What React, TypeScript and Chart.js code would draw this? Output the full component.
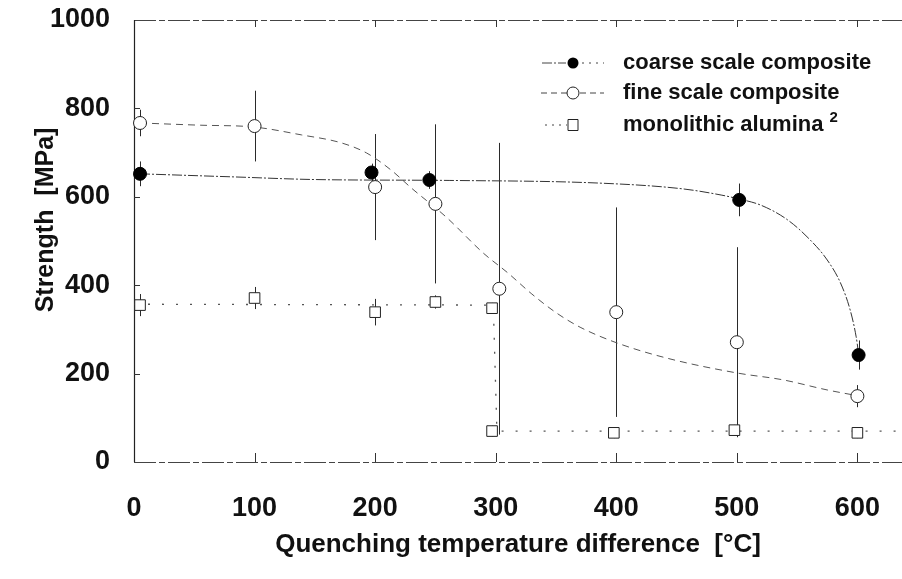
import React, { useEffect, useRef } from "react";
import { Chart, registerables } from "chart.js";

Chart.register(...registerables);

// ---- data ----
const xTickValues = [0, 100, 200, 300, 400, 500, 600];
const yTickValues = [0, 200, 400, 600, 800, 1000];

const xAxisTitle = "Quenching temperature difference  [°C]";
const yAxisTitle = "Strength  [MPa]";

const seriesNames = ["coarse scale composite", "fine scale composite", "monolithic alumina"];
const monoSuperscript = "2";

const coarseX = [5, 197, 245, 502, 601];
const coarseY = [652, 655, 638, 593, 242];
const coarseErr = [28, 20, 20, 37, 33];

const fineX = [5, 100, 200, 250, 303, 400, 500, 600];
const fineY = [767, 760, 622, 584, 392, 339, 271, 149];
const fineErr = [30, 80, 120, 180, 330, 237, 215, 25];

const monoX = [5, 100, 200, 250, 297, 297, 398, 498, 600];
const monoY = [355, 371, 339, 362, 348, 70, 66, 72, 66];
const monoErr = [25, 25, 30, 15, 12, 12, 12, 12, 12];

// fitted guide curves
const coarseFitX = [5, 83, 151, 262, 386, 455, 487, 502, 520, 542, 561, 575, 586, 594, 599, 601];
const coarseFitY = [652, 645, 639, 637, 631, 618, 604, 595, 581, 548, 502, 457, 405, 344, 283, 245];

const fineFitX = [5, 55, 99, 139, 172, 193, 213, 230, 259, 290, 310, 330, 350, 370, 400, 442, 501, 538, 575, 600];
const fineFitY = [767, 762, 758, 740, 722, 699, 661, 620, 554, 472, 428, 380, 338, 305, 270, 235, 201, 186, 163, 150];

const monoFitX = [0, 298, 301, 637];
const monoFitY = [357, 355, 70, 70];

const FONT = '"Liberation Sans", Arial, Helvetica, sans-serif';
const INK = "#111111";

const zip = (xs: number[], ys: number[]) => xs.map((x, i) => ({ x, y: ys[i] }));

const errorBarPlugin = {
  id: "errorBars",
  beforeDatasetsDraw(chart: any) {
    const { ctx, scales } = chart;
    const x = scales.x;
    const y = scales.y;
    ctx.save();
    ctx.strokeStyle = "#2a2a2a";
    ctx.lineWidth = 1;
    chart.data.datasets.forEach((ds: any) => {
      if (!ds.errors) return;
      ds.data.forEach((p: any, j: number) => {
        const e = ds.errors[j];
        const px = Math.round(x.getPixelForValue(p.x)) + 0.5;
        ctx.beginPath();
        ctx.moveTo(px, y.getPixelForValue(p.y + e));
        ctx.lineTo(px, y.getPixelForValue(Math.max(0, p.y - e)));
        ctx.stroke();
      });
    });
    ctx.restore();
  },
};

const framePlugin = {
  id: "frame",
  beforeDatasetsDraw(chart: any) {
    const { ctx, chartArea, scales } = chart;
    const x = scales.x;
    const y = scales.y;
    const { left, right, top, bottom } = chartArea;
    ctx.save();
    ctx.strokeStyle = "#444";
    ctx.lineWidth = 1;
    ctx.setLineDash([22, 3, 6, 3]);
    ctx.beginPath();
    ctx.moveTo(left, top + 0.5);
    ctx.lineTo(right, top + 0.5);
    ctx.moveTo(left, bottom + 0.5);
    ctx.lineTo(right, bottom + 0.5);
    ctx.stroke();
    ctx.setLineDash([]);
    ctx.strokeStyle = "#222";
    ctx.lineWidth = 1.2;
    ctx.beginPath();
    ctx.moveTo(left + 0.5, top);
    ctx.lineTo(left + 0.5, bottom);
    ctx.stroke();
    ctx.lineWidth = 1;
    ctx.strokeStyle = "#333";
    ctx.beginPath();
    xTickValues.forEach((v) => {
      if (v === 0) return;
      const px = Math.round(x.getPixelForValue(v)) + 0.5;
      ctx.moveTo(px, top);
      ctx.lineTo(px, top + 7);
      ctx.moveTo(px, bottom);
      ctx.lineTo(px, bottom - 9);
    });
    yTickValues.forEach((v) => {
      if (v === 0 || v === 1000) return;
      const py = Math.round(y.getPixelForValue(v)) + 0.5;
      ctx.moveTo(left, py);
      ctx.lineTo(left + 6, py);
    });
    ctx.stroke();
    ctx.restore();
  },
};

const annotationPlugin = {
  id: "annotations",
  afterDraw(chart: any) {
    const { ctx } = chart;
    ctx.save();
    ctx.fillStyle = INK;
    ctx.font = `bold 25px ${FONT}`;
    ctx.textAlign = "center";
    ctx.textBaseline = "middle";
    ctx.translate(46, 220);
    ctx.rotate(-Math.PI / 2);
    ctx.fillText(yAxisTitle, 0, 0);
    ctx.restore();

    ctx.save();
    const rows = [63, 93, 125];
    const textX = 623;
    const markX = 573;
    ctx.strokeStyle = "#444";
    ctx.lineWidth = 1;
    ctx.setLineDash([10, 2, 2, 2]);
    ctx.beginPath();
    ctx.moveTo(542, rows[0]);
    ctx.lineTo(566, rows[0]);
    ctx.stroke();
    ctx.setLineDash([2, 5]);
    ctx.beginPath();
    ctx.moveTo(582, rows[0]);
    ctx.lineTo(604, rows[0]);
    ctx.stroke();
    ctx.setLineDash([]);
    ctx.fillStyle = "#000";
    ctx.beginPath();
    ctx.arc(markX, rows[0], 5.5, 0, Math.PI * 2);
    ctx.fill();
    ctx.setLineDash([6, 4]);
    ctx.beginPath();
    ctx.moveTo(541, rows[1]);
    ctx.lineTo(567, rows[1]);
    ctx.moveTo(580, rows[1]);
    ctx.lineTo(604, rows[1]);
    ctx.stroke();
    ctx.setLineDash([]);
    ctx.fillStyle = "#fff";
    ctx.strokeStyle = "#222";
    ctx.beginPath();
    ctx.arc(markX, rows[1], 6, 0, Math.PI * 2);
    ctx.fill();
    ctx.stroke();
    ctx.strokeStyle = "#444";
    ctx.setLineDash([2, 5]);
    ctx.beginPath();
    ctx.moveTo(545, rows[2]);
    ctx.lineTo(567, rows[2]);
    ctx.stroke();
    ctx.setLineDash([]);
    ctx.strokeStyle = "#222";
    ctx.fillStyle = "#fff";
    ctx.beginPath();
    ctx.rect(markX - 5, rows[2] - 5.5, 10, 11);
    ctx.fill();
    ctx.stroke();
    ctx.fillStyle = INK;
    ctx.font = `bold 22px ${FONT}`;
    ctx.textAlign = "left";
    ctx.textBaseline = "middle";
    seriesNames.forEach((name, i) => ctx.fillText(name, textX, rows[i]));
    const w = ctx.measureText(seriesNames[2]).width;
    ctx.font = `bold 15px ${FONT}`;
    ctx.fillText(monoSuperscript, textX + w + 6, rows[2] - 7);
    ctx.restore();
  },
};

export default function App() {
  const canvasRef = useRef<HTMLCanvasElement | null>(null);

  useEffect(() => {
    if (!canvasRef.current) return;
    const tickFont = { family: FONT, size: 27, weight: "bold" as const };
    const chart = new Chart(canvasRef.current, {
      type: "scatter",
      data: {
        datasets: [
          {
            label: "coarse fit",
            data: zip(coarseFitX, coarseFitY),
            showLine: true,
            borderColor: "#333",
            borderWidth: 1,
            borderDash: [10, 2, 2, 2],
            pointRadius: 0,
            cubicInterpolationMode: "monotone",
            order: 3,
          } as any,
          {
            label: "fine fit",
            data: zip(fineFitX, fineFitY),
            showLine: true,
            borderColor: "#555",
            borderWidth: 1,
            borderDash: [7, 5],
            pointRadius: 0,
            cubicInterpolationMode: "monotone",
            order: 3,
          } as any,
          {
            label: "mono fit",
            data: zip(monoFitX, monoFitY),
            showLine: true,
            borderColor: "#555",
            borderWidth: 1.3,
            borderDash: [2, 12],
            pointRadius: 0,
            tension: 0,
            order: 3,
          } as any,
          {
            label: seriesNames[2],
            data: zip(monoX, monoY),
            errors: monoErr,
            showLine: false,
            pointStyle: "rect",
            pointRadius: 7.5,
            pointBackgroundColor: "#fff",
            pointBorderColor: "#222",
            pointBorderWidth: 1,
            clip: false,
            order: 1,
          } as any,
          {
            label: seriesNames[1],
            data: zip(fineX, fineY),
            errors: fineErr,
            showLine: false,
            pointStyle: "circle",
            pointRadius: 6.5,
            pointBackgroundColor: "#fff",
            pointBorderColor: "#222",
            pointBorderWidth: 1,
            clip: false,
            order: 1,
          } as any,
          {
            label: seriesNames[0],
            data: zip(coarseX, coarseY),
            errors: coarseErr,
            showLine: false,
            pointStyle: "circle",
            pointRadius: 6.5,
            pointBackgroundColor: "#000",
            pointBorderColor: "#000",
            pointBorderWidth: 1,
            clip: false,
            order: 0,
          } as any,
        ],
      },
      options: {
        animation: false,
        responsive: true,
        maintainAspectRatio: false,
        layout: { autoPadding: false, padding: { top: 20, left: 0, right: 0, bottom: 0 } },
        plugins: {
          legend: { display: false },
          tooltip: { enabled: false },
        },
        scales: {
          x: {
            type: "linear",
            min: 0,
            max: 637,
            afterBuildTicks: (s: any) => {
              s.ticks = xTickValues.map((v) => ({ value: v }));
            },
            afterFit: (s: any) => {
              s.height = 117;
              s.paddingLeft = 0;
              s.paddingRight = 0;
            },
            ticks: {
              font: tickFont,
              color: INK,
              padding: 30,
              maxRotation: 0,
              autoSkip: false,
              includeBounds: false,
              callback: (v: any) => String(v),
            },
            grid: { display: false, drawTicks: false },
            border: { display: false },
            title: {
              display: true,
              text: xAxisTitle,
              color: INK,
              font: { family: FONT, size: 26, weight: "bold" },
              padding: { top: 0, bottom: 19 },
            },
          },
          y: {
            type: "linear",
            min: 0,
            max: 1000,
            afterBuildTicks: (s: any) => {
              s.ticks = yTickValues.map((v) => ({ value: v }));
            },
            afterFit: (s: any) => {
              s.width = 134;
              s.paddingTop = 0;
              s.paddingBottom = 0;
            },
            ticks: {
              font: tickFont,
              color: INK,
              padding: 24,
              autoSkip: false,
              includeBounds: false,
              callback: (v: any) => String(v),
            },
            grid: { display: false, drawTicks: false },
            border: { display: false },
          },
        },
      } as any,
      plugins: [framePlugin, errorBarPlugin, annotationPlugin],
    });
    return () => chart.destroy();
  }, []);

  return (
    <div style={{ position: "absolute", left: 0, top: 0, width: 902, height: 579, background: "#fff" }}>
      <canvas ref={canvasRef} />
    </div>
  );
}
